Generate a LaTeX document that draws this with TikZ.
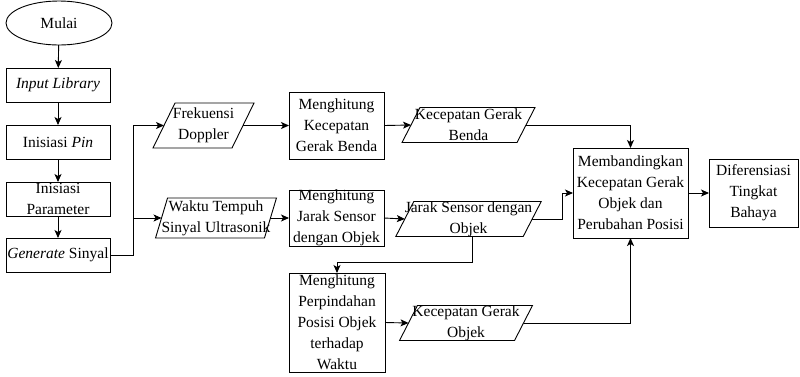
\documentclass[tikz,border=0pt]{standalone}
\usepackage{fontspec}
\setmainfont{Liberation Serif}
\usetikzlibrary{shapes.geometric,arrows.meta,calc}
\begin{document}
\begin{tikzpicture}[x=1pt,y=-1pt,
  every node/.style={font=\fontsize{15.5}{21}\selectfont, align=center, inner sep=0pt, outer sep=0pt},
  sz/.style 2 args={minimum width=#1pt, minimum height=#2pt},
  box/.style={draw, line width=0.9pt, rectangle},
  io/.style={rectangle},
  term/.style={draw, line width=0.9pt, ellipse},
  arr/.style={line width=0.9pt, -{Stealth[length=8pt,width=7pt,inset=2pt]}},
  ln/.style={line width=0.9pt}
]
\useasboundingbox (0,0) rectangle (800,376);

% left column
\node[term, sz={106}{44}] (mulai) at (59,23) {Mulai};
\node[box, sz={104}{34}] (input) at (58,85) {\textit{Input Library}};
\node[box, sz={104}{34}] (pin) at (58,142) {Inisiasi \textit{Pin}};
\node[box, sz={104}{34}] (param) at (58,199) {Inisiasi\\Parameter};
\node[box, sz={104}{34}] (gen) at (58,255) {\textit{Generate} Sinyal};

% inputs/outputs
\node[io, sz={79}{45}] (frek) at (203.5,125.5) {Frekuensi\\Doppler};
\node[io, sz={94}{40}] (waktu) at (216,218) {Waktu Tempuh\\Sinyal Ultrasonik};

% processes
\node[box, sz={95}{67}] (kec) at (336.5,125.5) {Menghitung\\Kecepatan\\Gerak Benda};
\node[box, sz={95}{53}] (jarak) at (336.5,218) {Menghitung\\Jarak Sensor\\dengan Objek};
\node[box, sz={96}{99}] (perp) at (337,322.5) {Menghitung\\Perpindahan\\Posisi Objek\\terhadap\\Waktu};

\node[io, sz={115}{35}] (kgb) at (468.5,125) {Kecepatan Gerak\\Benda};
\node[io, sz={115}{34}] (js) at (468.5,219) {Jarak Sensor dengan\\Objek};
\node[io, sz={115}{33}] (kgo) at (466,323) {Kecepatan Gerak\\Objek};

\node[box, sz={115}{90}] (memb) at (630.5,193) {Membandingkan\\Kecepatan Gerak\\Objek dan\\Perubahan Posisi};
\node[box, sz={89}{68}] (dif) at (753.5,193) {Diferensiasi\\Tingkat\\Bahaya};

% parallelogram outlines
\foreach \n/\s in {frek/11, waktu/6, kgb/9, js/9, kgo/9}{
  \draw[ln] ([xshift=\s pt]\n.north west) -- ([xshift=\s pt]\n.north east)
    -- ([xshift=-\s pt]\n.south east) -- ([xshift=-\s pt]\n.south west) -- cycle;
}

% connectors
\draw[arr] (mulai) -- (input);
\draw[arr] (input) -- (pin);
\draw[arr] (pin) -- (param);
\draw[arr] (param) -- (gen);

\coordinate (j) at (133,0);
\draw[arr] (gen.east) -- (gen.east -| j) |- (frek.west);
\draw[arr] (j |- waktu.west) -- (waktu.west);

\draw[arr] (frek.east) -- (kec.west);
\draw[arr] (waktu.east) -- (jarak.west);
\draw[arr] (kec.east) -- (kgb.west);
\draw[arr] (jarak.east) -- (js.west);

\draw[arr] (kgb.east) -| (memb.north);
\coordinate (k) at (562,0);
\draw[arr] (js.east) -- (js.east -| k) |- (memb.west);
\coordinate (jsb) at ($(js.south)+(4,0)$);
\draw[arr] (jsb) |- ($(perp.north)+(0,-11)$) -- (perp.north);
\draw[arr] (perp.east) -- (kgo.west);
\draw[arr] (kgo.east) -| (memb.south);
\draw[arr] (memb.east) -- (dif.west);
\end{tikzpicture}
\end{document}
